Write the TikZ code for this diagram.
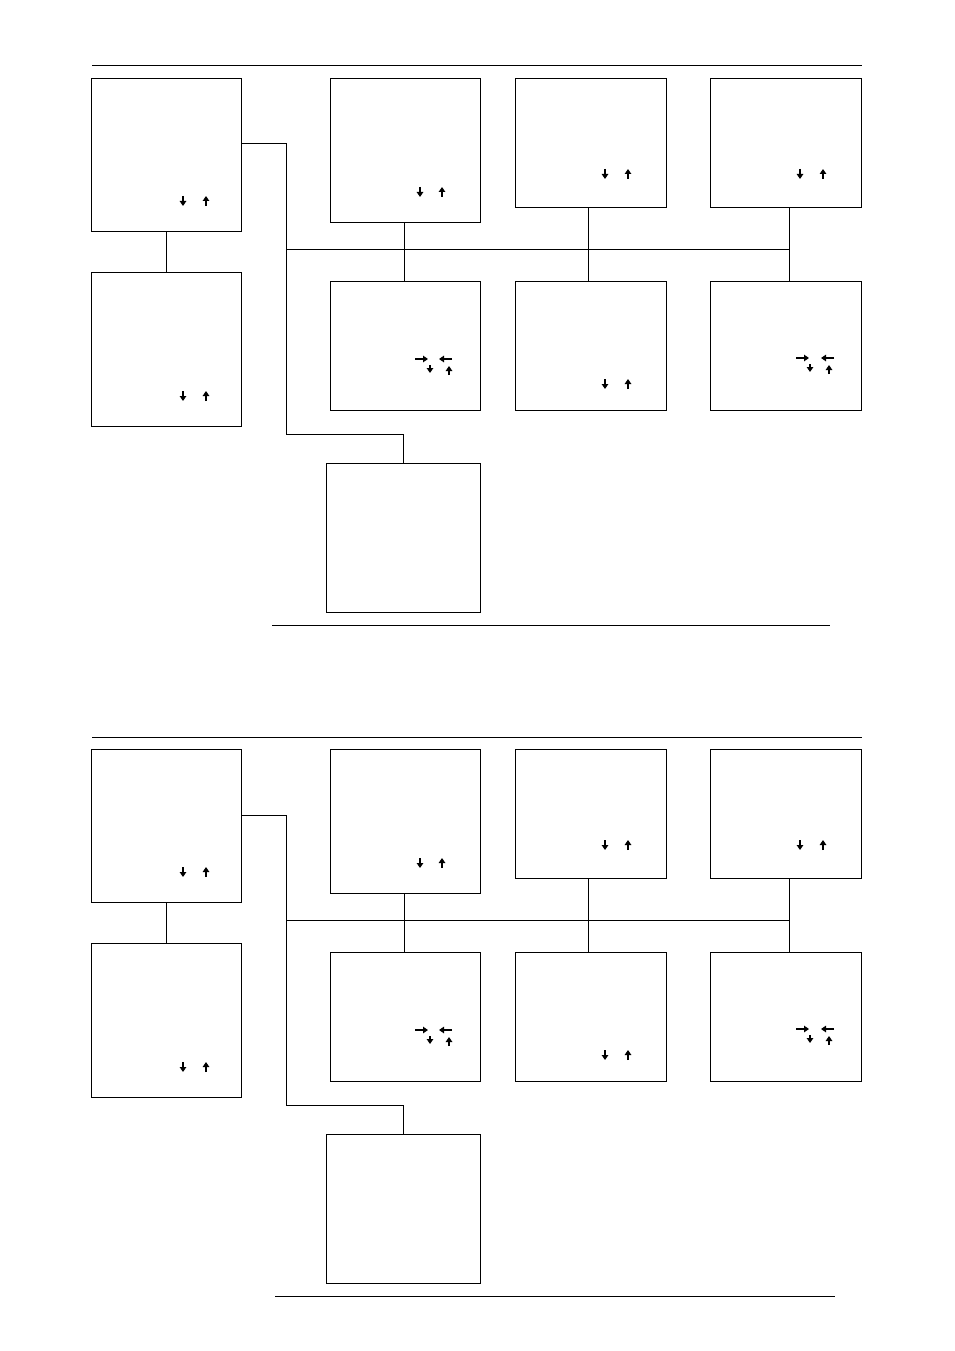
\documentclass[tikz,border=0pt]{standalone}
\usetikzlibrary{arrows.meta}
\tikzset{
  box/.style={draw, line width=1pt, inner sep=0pt, anchor=north west},
  wire/.style={line width=1pt},
  rule/.style={line width=1pt},
  arr/.style={line width=2pt, -{Triangle[length=5pt,width=6.5pt]}}
}
\newcommand\dnup[3]{% x of down, x of up, center y
  \draw[arr] (#1,#3-5) -- (#1,#3+5);
  \draw[arr] (#2,#3+5) -- (#2,#3-5);}
\newcommand\lrdu[5]{% right-arrow x, left-arrow x, y, down x, up x
  \draw[arr] (#1-6,#3) -- (#1+7,#3);
  \draw[arr] (#2+7,#3) -- (#2-6,#3);
  \draw[arr] (#4,#3+6) -- (#4,#3+14);
  \draw[arr] (#5,#3+16) -- (#5,#3+7);}
\newcommand\mypanel[2]{% #1 = rule x start, #2 = rule x end for bottom rule
  \coordinate (r1) at (92,66); \coordinate (r2) at (862,66);
  \draw[rule] (r1) -- (r2);
  \node[box, minimum width=150pt, minimum height=153pt] (A) at (91,78) {};
  \node[box, minimum width=150pt, minimum height=154pt] (B) at (91,272) {};
  \node[box, minimum width=150pt, minimum height=144pt] (C) at (330,78) {};
  \node[box, minimum width=151pt, minimum height=129pt] (D) at (515,78) {};
  \node[box, minimum width=151pt, minimum height=129pt] (E) at (710,78) {};
  \node[box, minimum width=150pt, minimum height=129pt] (F) at (330,281) {};
  \node[box, minimum width=151pt, minimum height=129pt] (G) at (515,281) {};
  \node[box, minimum width=151pt, minimum height=129pt] (H) at (710,281) {};
  \node[box, minimum width=154pt, minimum height=149pt] (I) at (326,463) {};
  \coordinate (j1) at (286,144);
  \coordinate (j2) at (286,434);
  \coordinate (bus) at (286,249);
  \coordinate (busend) at (789,249);
  \draw[wire] (A.south) -- (B.north);
  \draw[wire] (A.east |- j1) -- (j1) -- (j2) -- (I.north |- j2) -- (I.north);
  \draw[wire] (bus) -- (busend);
  \draw[wire] ([xshift=-1pt]C.south) -- ([xshift=-1pt]F.north);
  \draw[wire] ([xshift=-2.5pt]D.south) -- ([xshift=-2.5pt]G.north);
  \draw[wire] ([xshift=3.5pt]E.south) -- ([xshift=3.5pt]H.north);
  \coordinate (b1) at (#1,625); \coordinate (b2) at (#2,625);
  \draw[rule] (b1) -- (b2);
  \dnup{183}{206}{201}
  \dnup{183}{206}{396}
  \dnup{420}{442}{192}
  \dnup{605}{628}{174}
  \dnup{800}{823}{174}
  \dnup{605}{628}{384}
  \lrdu{421}{445}{359}{430}{449}
  \lrdu{802}{827}{358}{810}{829}
}
\begin{document}
\begin{tikzpicture}[x=1pt,y=-1pt]
  \useasboundingbox (0,0) rectangle (954,1351);
  \fill[white] (0,0) rectangle (954,1351);
  \begin{scope}[name prefix=t-]
    \mypanel{272}{830}
  \end{scope}
  \begin{scope}[name prefix=b-, yshift=-671pt]
    \mypanel{275}{835}
  \end{scope}
\end{tikzpicture}
\end{document}
